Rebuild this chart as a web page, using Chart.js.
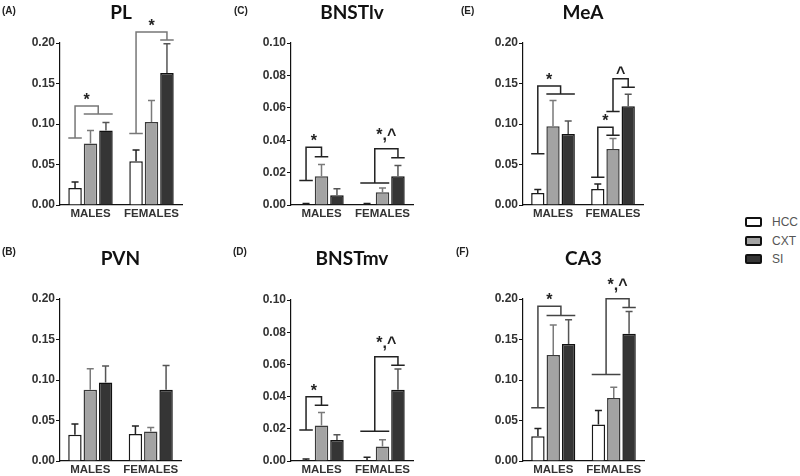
<!DOCTYPE html>
<html>
<head>
<meta charset="utf-8">
<script src="https://cdn.jsdelivr.net/npm/chart.js@4.4.1/dist/chart.umd.min.js"></script>
<style>
  body { margin: 0; width: 800px; height: 476px; overflow: hidden; background: #fff; position: relative; font-family: 'Liberation Sans', Arial, sans-serif; }
  canvas { position: absolute; }
  .tag { position: absolute; font: bold 10px 'Liberation Sans', Arial, sans-serif; color: #222; }
  #legend { position: absolute; left: 745px; top: 213px; }
  .item { height: 18.5px; display: flex; align-items: center; font-size: 12px; color: #555; }
  .box { width: 13px; height: 6px; border: 2px solid #111; border-radius: 2px; margin-right: 10px; }
</style>
</head>
<body>
<div id="legend"></div>
<script>
// groups on the x axis and the three conditions
const groups = ['MALES', 'FEMALES'];
const series = ['HCC', 'CXT', 'SI'];

// means per condition [MALES, FEMALES]
const plMean = [[0.021, 0.054], [0.076, 0.1025], [0.092, 0.163]];
const plSem  = [[0.0075, 0.014], [0.016, 0.0265], [0.010, 0.036]];
const pvnMean = [[0.0324, 0.0332], [0.088, 0.0365], [0.097, 0.088]];
const pvnSem  = [[0.0132, 0.010], [0.026, 0.005], [0.0204, 0.030]];
const lvMean = [[0.0003, 0.0003], [0.0178, 0.0079], [0.006, 0.0178]];
const lvSem  = [[0.0007, 0.0007], [0.0072, 0.0026], [0.0041, 0.0066]];
const mvMean = [[0.0003, 0.0003], [0.022, 0.009], [0.013, 0.0442]];
const mvSem  = [[0.0009, 0.002], [0.0082, 0.0042], [0.0033, 0.013]];
const meaMean = [[0.0149, 0.0198], [0.0971, 0.069], [0.0876, 0.1219]];
const meaSem  = [[0.0041, 0.0062], [0.032, 0.0132], [0.0161, 0.0149]];
const ca3Mean = [[0.0306, 0.0451], [0.131, 0.0778], [0.1445, 0.157]];
const ca3Sem  = [[0.0096, 0.0174], [0.037, 0.0133], [0.030, 0.0277]];

// significance brackets: [group, fromBars, toBars, height over from, height over to, top, label]
const plSig = [[0, [0, 0], [1, 2], 0.0826, 0.1124, 0.1223, '*'],
               [1, [0, 0], [2, 2], 0.0884, 0.2037, 0.2136, '*']];
const lvSig = [[0, [0, 0], [1, 1], 0.0151, 0.0298, 0.0357, '*'],
               [1, [0, 1], [2, 2], 0.0136, 0.0291, 0.0347, '*,^']];
const mvSig = [[0, [0, 0], [1, 1], 0.0193, 0.0346, 0.0399, '*'],
               [1, [0, 1], [2, 2], 0.0185, 0.0595, 0.0648, '*,^']];
const meaSig = [[0, [0, 0], [1, 2], 0.0632, 0.137, 0.147, '*'],
                [1, [0, 0], [1, 1], 0.0343, 0.086, 0.0959, '*'],
                [1, [1, 1], [2, 2], 0.1153, 0.1455, 0.156, '^']];
const ca3Sig = [[0, [0, 0], [1, 2], 0.0658, 0.1797, 0.1909, '*'],
                [1, [0, 1], [2, 2], 0.1068, 0.1896, 0.2004, '*,^']];

const fills = ['#ffffff', '#a3a3a3', '#353535'];
const borders = ['#1a1a1a', '#3a3a3a', '#111111'];
const errColors = ['#222222', '#7a7a7a', '#555555'];
const sansFamily = "'Liberation Sans', Arial, sans-serif";

const panels = [
  { tag: '(A)', title: 'PL', mean: plMean, sem: plSem, sig: plSig, max: 0.20, step: 0.05,
    left: 0, top: 0, yw: 60, right: 18, padTop: 43, h: 222, tagX: 2, tagY: 5, line: '#777' },
  { tag: '(B)', title: 'PVN', mean: pvnMean, sem: pvnSem, sig: [], max: 0.20, step: 0.05,
    left: 0, top: 246, yw: 60, right: 19, padTop: 53, h: 232, tagX: 2, tagY: 246, line: '#333' },
  { tag: '(C)', title: 'BNSTlv', mean: lvMean, sem: lvSem, sig: lvSig, max: 0.10, step: 0.02,
    left: 230, top: 0, yw: 61, right: 17, padTop: 43, h: 222, tagX: 234, tagY: 5, line: '#222' },
  { tag: '(D)', title: 'BNSTmv', mean: mvMean, sem: mvSem, sig: mvSig, max: 0.10, step: 0.02,
    left: 230, top: 246, yw: 61, right: 17, padTop: 54, h: 232, tagX: 233, tagY: 246, line: '#222' },
  { tag: '(E)', title: 'MeA', mean: meaMean, sem: meaSem, sig: meaSig, max: 0.20, step: 0.05,
    left: 460, top: 0, yw: 63, right: 17, padTop: 43, h: 222, tagX: 461, tagY: 5, line: '#222' },
  { tag: '(F)', title: 'CA3', mean: ca3Mean, sem: ca3Sem, sig: ca3Sig, max: 0.20, step: 0.05,
    left: 460, top: 246, yw: 63, right: 16, padTop: 53, h: 232, tagX: 456, tagY: 246, line: '#444' }
];

function makeExtras(p) {
  return {
    id: 'extras',
    afterDatasetsDraw(chart) {
      const ctx = chart.ctx, y = chart.scales.y;
      ctx.save();
      ctx.lineWidth = 1.5;
      p.sem.forEach((errs, i) => {
        ctx.strokeStyle = errColors[i];
        chart.getDatasetMeta(i).data.forEach((bar, j) => {
          const top = y.getPixelForValue(p.mean[i][j] + errs[j]);
          ctx.beginPath();
          ctx.moveTo(bar.x, bar.y);
          ctx.lineTo(bar.x, top);
          ctx.moveTo(bar.x - 3.5, top);
          ctx.lineTo(bar.x + 3.5, top);
          ctx.stroke();
        });
      });
      ctx.restore();
    },
    afterDraw(chart) {
      const ctx = chart.ctx, y = chart.scales.y, area = chart.chartArea;
      ctx.save();
      ctx.fillStyle = '#111';
      ctx.font = 'bold 19px Lato, sans-serif';
      ctx.textAlign = 'center';
      ctx.textBaseline = 'middle';
      ctx.fillText(p.title, (area.left + area.right) / 2, 13);

      ctx.strokeStyle = p.line;
      ctx.lineWidth = 1.5;
      ctx.font = 'bold 16px ' + sansFamily;
      ctx.textBaseline = 'alphabetic';
      const span = (g, a, b) => {
        const e0 = chart.getDatasetMeta(a).data[g], e1 = chart.getDatasetMeta(b).data[g];
        return [e0.x - e0.width / 2, e1.x + e1.width / 2];
      };
      p.sig.forEach(([g, from, to, hFrom, hTo, hTop, label]) => {
        const [a0, a1] = span(g, from[0], from[1]);
        const [b0, b1] = span(g, to[0], to[1]);
        const ya = y.getPixelForValue(hFrom), yb = y.getPixelForValue(hTo), yt = y.getPixelForValue(hTop);
        const xa = (a0 + a1) / 2, xb = (b0 + b1) / 2;
        ctx.beginPath();
        ctx.moveTo(a0, ya); ctx.lineTo(a1, ya);
        ctx.moveTo(b0, yb); ctx.lineTo(b1, yb);
        ctx.moveTo(xa, ya); ctx.lineTo(xa, yt); ctx.lineTo(xb, yt); ctx.lineTo(xb, yb);
        ctx.stroke();
        ctx.fillStyle = '#222';
        ctx.fillText(label, (xa + xb) / 2, yt - (label.length > 1 ? 9 : 1));
      });
      ctx.restore();
    }
  };
}

panels.forEach(p => {
  const canvas = document.createElement('canvas');
  canvas.width = 200;
  canvas.height = p.h;
  canvas.style.left = p.left + 'px';
  canvas.style.top = p.top + 'px';
  document.body.appendChild(canvas);

  const tag = document.createElement('div');
  tag.className = 'tag';
  tag.textContent = p.tag;
  tag.style.left = p.tagX + 'px';
  tag.style.top = p.tagY + 'px';
  document.body.appendChild(tag);

  new Chart(canvas, {
    type: 'bar',
    data: {
      labels: groups,
      datasets: series.map((name, i) => ({
        label: name,
        data: p.mean[i],
        backgroundColor: fills[i],
        borderColor: borders[i],
        borderWidth: 1.5,
        categoryPercentage: 0.76,
        barPercentage: 0.875
      }))
    },
    options: {
      responsive: false,
      animation: false,
      layout: { padding: { top: p.padTop, right: p.right, left: 0, bottom: 0 } },
      plugins: { legend: { display: false }, tooltip: { enabled: false } },
      scales: {
        x: {
          grid: { display: false, drawTicks: false },
          border: { display: true, color: '#111', width: 1.2 },
          ticks: {
            color: '#333', padding: 2, maxRotation: 0, minRotation: 0, autoSkip: false,
            font: { family: sansFamily, weight: 'bold', size: 11.5 }
          },
          afterFit: s => { s.height = 17; }
        },
        y: {
          min: 0,
          max: p.max,
          grid: { drawOnChartArea: false, drawTicks: true, tickLength: 4, color: '#111' },
          border: { display: true, color: '#111', width: 1.2 },
          ticks: {
            stepSize: p.step, padding: 1, color: '#333',
            font: { family: sansFamily, weight: 'bold', size: 12 },
            callback: v => v.toFixed(2)
          },
          afterFit: s => { s.width = p.yw; }
        }
      }
    },
    plugins: [makeExtras(p)]
  });
});

// legend
const legend = document.getElementById('legend');
series.forEach((name, i) => {
  const item = document.createElement('div');
  item.className = 'item';
  const box = document.createElement('span');
  box.className = 'box';
  box.style.background = fills[i];
  item.appendChild(box);
  item.appendChild(document.createTextNode(name));
  legend.appendChild(item);
});
</script>
</body>
</html>
